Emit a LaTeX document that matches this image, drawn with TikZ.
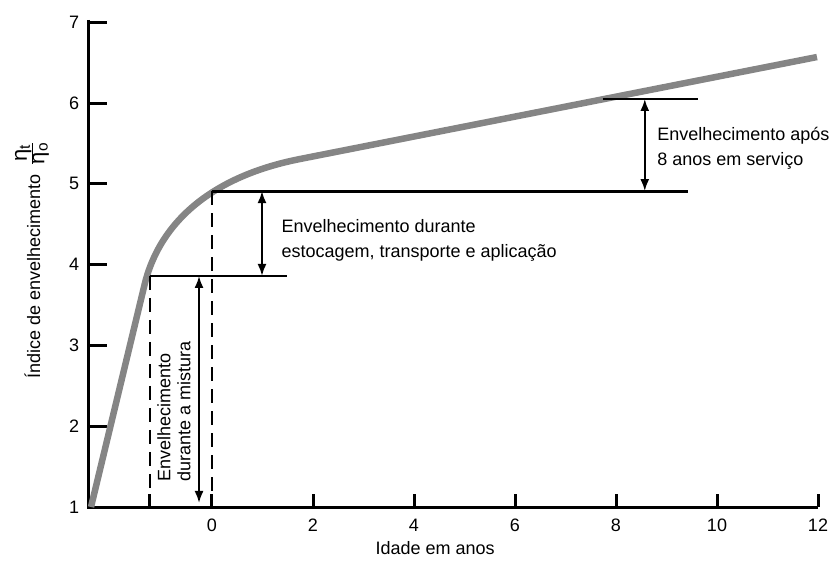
\documentclass[tikz,border=0pt]{standalone}
\usepackage{fontspec}
\setmainfont{Liberation Sans}
\usetikzlibrary{arrows.meta}
\def\labelfont{\fontsize{18}{25}\selectfont}
\tikzset{
  axisline/.style={line width=3pt},
  refline/.style={line width=2.4pt},
  dashline/.style={line width=2.8pt, dash pattern=on 14pt off 8pt},
  agecurve/.style={line width=6.5pt, color=black!48},
  dblarrow/.style={line width=2pt, {Latex[length=12pt,width=9pt]}-{Latex[length=12pt,width=9pt]}}
}

\begin{document}
\begin{tikzpicture}[x=50.5pt, y=80.8pt, font=\labelfont]
			%%%%% START %%%%%
			\useasboundingbox (-4.198, 0.307) rectangle (12.396, 7.275);
			
			% axes
			\coordinate (orig) at (-2.436, 1);
			\coordinate (ytop) at (-2.436, 7.03);
			\coordinate (xend) at (12, 1);
			\draw[axisline] (ytop) -- (orig) -- (xend);
			
			\foreach \v in {1,...,7}{
				\draw[axisline] (-2.436, \v) -- ++(0.356, 0);
				\node (ynum\v) at (-2.73, \v) {\v};
			}
			\draw[axisline] (-1.228, 1) -- ++(0, 0.16);
			\foreach \t in {0,2,...,12}{
				\draw[axisline] (\t, 1) -- ++(0, 0.16);
				\node (xnum\t) at (\t, 0.777) {\t};
			}
			
			\node (xtitle) at (4.42, 0.493) {Idade em anos};
			\node[rotate=90] (ytitle) at (-3.564, 4.057)
				{Índice de envelhecimento\enspace\raisebox{3pt}{\fontsize{22}{22}\selectfont$\frac{\mbox{η\textsubscript{t}}}{\mbox{η\textsubscript{o}}}$}};
			
			% curve
			\draw[agecurve] (-2.396, 1.0) -- (-1.337, 3.748)
				.. controls (-1.026, 4.552) and (0.0495, 5.099) .. (1.743, 5.307) -- (11.98, 6.569);
			
			% reference levels
			\coordinate (mixA) at (-1.228, 3.86);
			\coordinate (mixB) at (1.49, 3.86);
			\coordinate (mixD) at (-1.228, 1);
			\coordinate (stoA) at (0, 4.91);
			\coordinate (stoB) at (9.43, 4.91);
			\coordinate (stoD) at (0, 1);
			\coordinate (serA) at (7.74, 6.05);
			\coordinate (serB) at (9.62, 6.05);
			
			\draw[refline] (mixA) -- (mixB);
			\draw[refline, line width=3pt] (stoA) -- (stoB);
			\draw[refline] (serA) -- (serB);
			
			\draw[dashline] (mixA) -- (mixD);
			\draw[dashline] (stoA) -- (stoD);
			
			% arrows
			\coordinate (arrMixT) at (-0.257, 3.86);
			\coordinate (arrMixB) at (-0.257, 1.05);
			\coordinate (arrStoT) at (0.99, 4.91);
			\coordinate (arrStoB) at (0.99, 3.86);
			\coordinate (arrSerT) at (8.57, 6.05);
			\coordinate (arrSerB) at (8.57, 4.91);
			
			\draw[dblarrow] (arrMixT) -- (arrMixB);
			\draw[dblarrow] (arrStoT) -- (arrStoB);
			\draw[dblarrow] (arrSerT) -- (arrSerB);
			
			% texts
			\node[rotate=90, align=left, anchor=west, font=\fontsize{18}{20}\selectfont] (mixtext) at (-0.752, 1.272)
				{Envelhecimento\\durante a mistura};
			\node[align=left, anchor=west] (stotext) at (1.307, 4.304)
				{Envelhecimento durante\\estocagem, transporte e aplicação};
			\node[align=left, anchor=west] (sertext) at (8.75, 5.443)
				{Envelhecimento após\\8 anos em serviço};
			
			%%%%% END %%%%%
\end{tikzpicture}
\end{document}
